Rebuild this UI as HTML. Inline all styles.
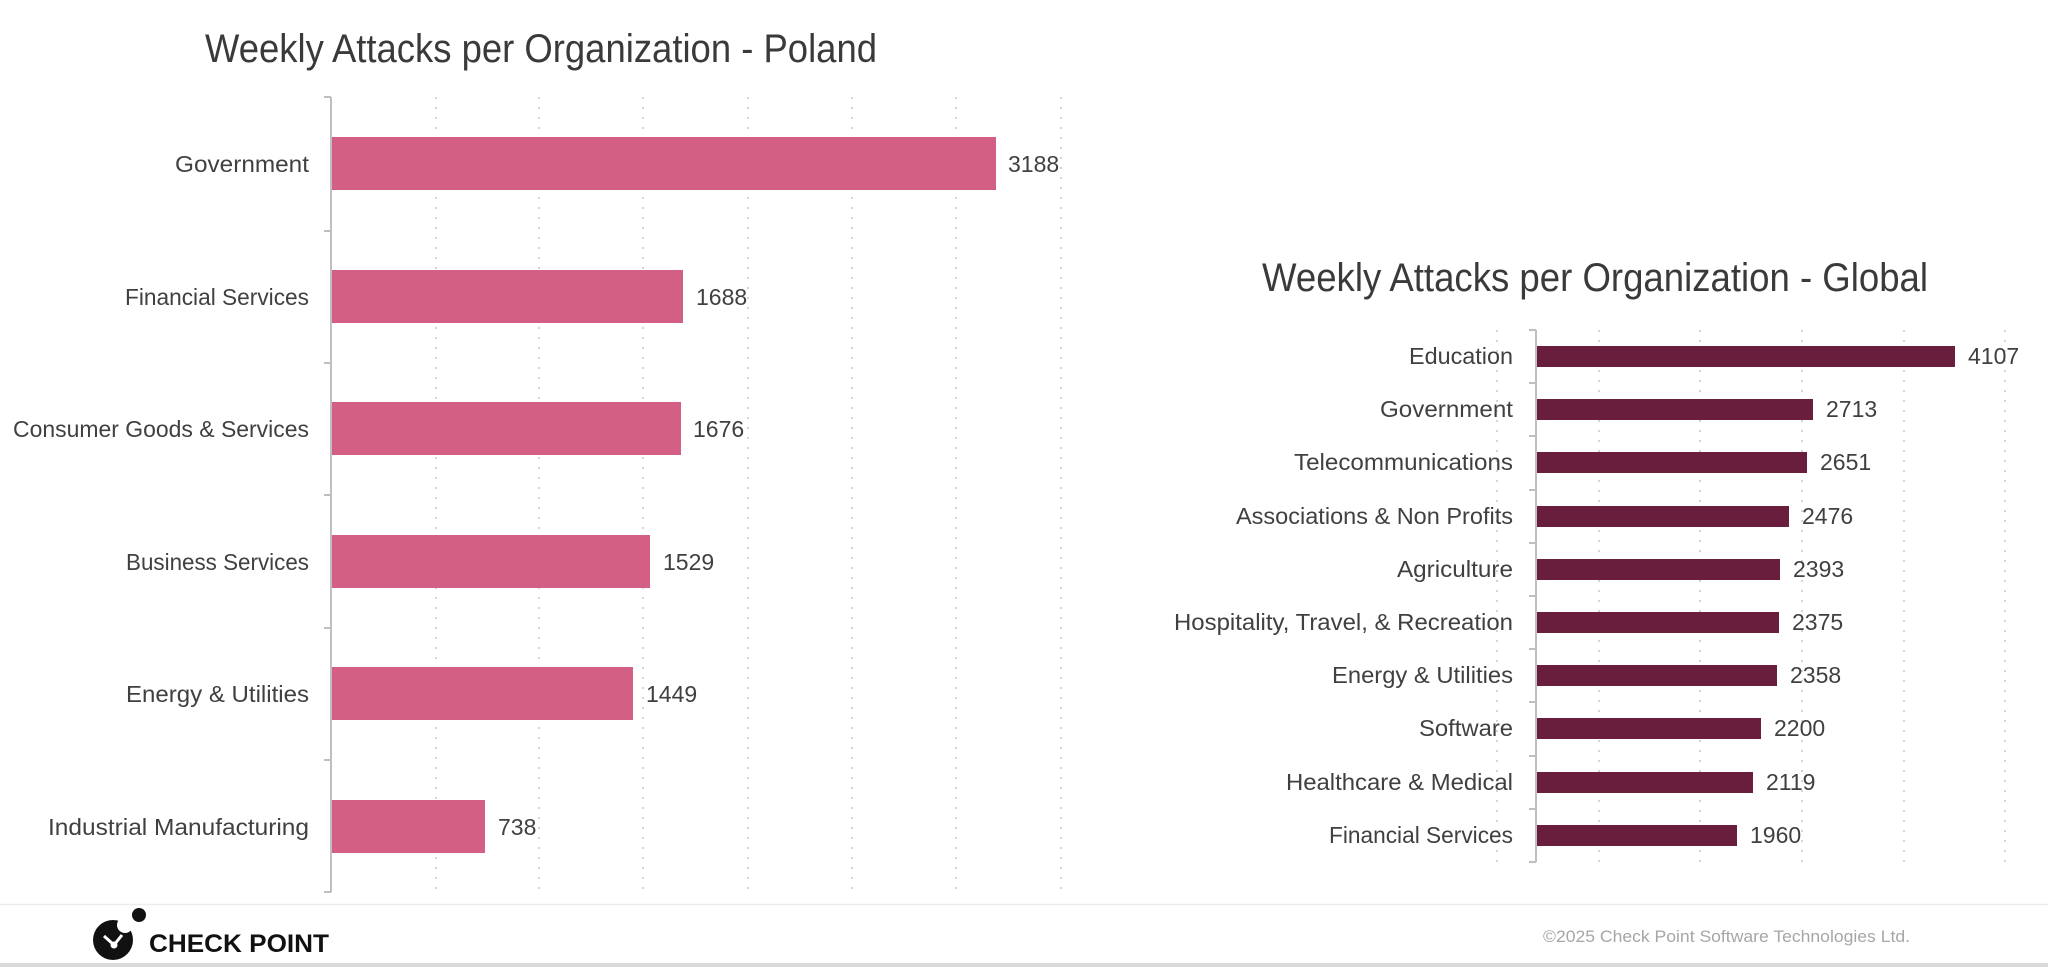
<!DOCTYPE html>
<html><head><meta charset="utf-8"><style>
html,body{margin:0;padding:0;background:#fff;}
svg{display:block;}
text{font-family:"Liberation Sans",sans-serif;}
</style></head><body>
<svg width="2048" height="967" viewBox="0 0 2048 967" xmlns="http://www.w3.org/2000/svg">
<rect width="2048" height="967" fill="#fff"/>
<!-- Left chart -->
<text x="205" y="62" font-size="40" fill="#3a3a3a" textLength="672" lengthAdjust="spacingAndGlyphs">Weekly Attacks per Organization - Poland</text>
<g stroke="#d4d4d4" stroke-width="2" stroke-dasharray="2,8">
<line x1="436" y1="97" x2="436" y2="892"/><line x1="539" y1="97" x2="539" y2="892"/>
<line x1="643" y1="97" x2="643" y2="892"/><line x1="748" y1="97" x2="748" y2="892"/>
<line x1="852" y1="97" x2="852" y2="892"/><line x1="956" y1="97" x2="956" y2="892"/>
<line x1="1061" y1="97" x2="1061" y2="892"/>
</g>
<g stroke="#bfbfbf" stroke-width="2">
<line x1="331" y1="97" x2="331" y2="892"/>
<line x1="324" y1="97" x2="331" y2="97"/><line x1="324" y1="231" x2="331" y2="231"/>
<line x1="324" y1="363" x2="331" y2="363"/><line x1="324" y1="495" x2="331" y2="495"/>
<line x1="324" y1="628" x2="331" y2="628"/><line x1="324" y1="760" x2="331" y2="760"/>
<line x1="324" y1="892" x2="331" y2="892"/>
</g>
<g fill="#d45f84">
<rect x="332" y="137" width="664" height="53"/>
<rect x="332" y="270" width="351" height="53"/>
<rect x="332" y="402" width="349" height="53"/>
<rect x="332" y="535" width="318" height="53"/>
<rect x="332" y="667" width="301" height="53"/>
<rect x="332" y="800" width="153" height="53"/>
</g>
<g font-size="23" fill="#404040" text-anchor="end">
<text x="309" y="172" textLength="134" lengthAdjust="spacingAndGlyphs">Government</text>
<text x="309" y="305" textLength="184" lengthAdjust="spacingAndGlyphs">Financial Services</text>
<text x="309" y="437" textLength="296" lengthAdjust="spacingAndGlyphs">Consumer Goods &amp; Services</text>
<text x="309" y="570" textLength="183" lengthAdjust="spacingAndGlyphs">Business Services</text>
<text x="309" y="702" textLength="183" lengthAdjust="spacingAndGlyphs">Energy &amp; Utilities</text>
<text x="309" y="835" textLength="261" lengthAdjust="spacingAndGlyphs">Industrial Manufacturing</text>
</g>
<g font-size="23" fill="#404040">
<text x="1008" y="172">3188</text>
<text x="696" y="305">1688</text>
<text x="693" y="437">1676</text>
<text x="663" y="570">1529</text>
<text x="646" y="702">1449</text>
<text x="498" y="835">738</text>
</g>
<!-- Right chart -->
<text x="1262" y="291" font-size="40" fill="#3a3a3a" textLength="666" lengthAdjust="spacingAndGlyphs">Weekly Attacks per Organization - Global</text>
<g stroke="#d4d4d4" stroke-width="2" stroke-dasharray="2,8">
<line x1="1497" y1="330" x2="1497" y2="862"/>
<line x1="1599" y1="330" x2="1599" y2="862"/><line x1="1700" y1="330" x2="1700" y2="862"/>
<line x1="1802" y1="330" x2="1802" y2="862"/><line x1="1904" y1="330" x2="1904" y2="862"/>
<line x1="2005" y1="330" x2="2005" y2="862"/>
</g>
<g stroke="#bfbfbf" stroke-width="2">
<line x1="1536" y1="330" x2="1536" y2="862"/>
<line x1="1529" y1="330" x2="1536" y2="330"/><line x1="1529" y1="383" x2="1536" y2="383"/>
<line x1="1529" y1="436" x2="1536" y2="436"/><line x1="1529" y1="490" x2="1536" y2="490"/>
<line x1="1529" y1="543" x2="1536" y2="543"/><line x1="1529" y1="596" x2="1536" y2="596"/>
<line x1="1529" y1="649" x2="1536" y2="649"/><line x1="1529" y1="702" x2="1536" y2="702"/>
<line x1="1529" y1="756" x2="1536" y2="756"/><line x1="1529" y1="809" x2="1536" y2="809"/>
<line x1="1529" y1="862" x2="1536" y2="862"/>
</g>
<g fill="#6a1e3d">
<rect x="1537" y="346" width="418" height="21"/>
<rect x="1537" y="399" width="276" height="21"/>
<rect x="1537" y="452" width="270" height="21"/>
<rect x="1537" y="506" width="252" height="21"/>
<rect x="1537" y="559" width="243" height="21"/>
<rect x="1537" y="612" width="242" height="21"/>
<rect x="1537" y="665" width="240" height="21"/>
<rect x="1537" y="718" width="224" height="21"/>
<rect x="1537" y="772" width="216" height="21"/>
<rect x="1537" y="825" width="200" height="21"/>
</g>
<g font-size="23" fill="#404040" text-anchor="end">
<text x="1513" y="364" textLength="104" lengthAdjust="spacingAndGlyphs">Education</text>
<text x="1513" y="417" textLength="133" lengthAdjust="spacingAndGlyphs">Government</text>
<text x="1513" y="470" textLength="219" lengthAdjust="spacingAndGlyphs">Telecommunications</text>
<text x="1513" y="524" textLength="277" lengthAdjust="spacingAndGlyphs">Associations &amp; Non Profits</text>
<text x="1513" y="577" textLength="116" lengthAdjust="spacingAndGlyphs">Agriculture</text>
<text x="1513" y="630" textLength="339" lengthAdjust="spacingAndGlyphs">Hospitality, Travel, &amp; Recreation</text>
<text x="1513" y="683" textLength="181" lengthAdjust="spacingAndGlyphs">Energy &amp; Utilities</text>
<text x="1513" y="736" textLength="94" lengthAdjust="spacingAndGlyphs">Software</text>
<text x="1513" y="790" textLength="227" lengthAdjust="spacingAndGlyphs">Healthcare &amp; Medical</text>
<text x="1513" y="843" textLength="184" lengthAdjust="spacingAndGlyphs">Financial Services</text>
</g>
<g font-size="23" fill="#404040">
<text x="1968" y="364">4107</text>
<text x="1826" y="417">2713</text>
<text x="1820" y="470">2651</text>
<text x="1802" y="524">2476</text>
<text x="1793" y="577">2393</text>
<text x="1792" y="630">2375</text>
<text x="1790" y="683">2358</text>
<text x="1774" y="736">2200</text>
<text x="1766" y="790">2119</text>
<text x="1750" y="843">1960</text>
</g>
<!-- Footer -->
<line x1="0" y1="904.5" x2="2048" y2="904.5" stroke="#ececec" stroke-width="1.5"/>
<rect x="0" y="963" width="2048" height="4" fill="#d9d9d9"/>
<circle cx="113" cy="940" r="20" fill="#111"/>
<circle cx="125" cy="925" r="8" fill="#fff"/>
<circle cx="139" cy="915" r="7" fill="#111"/>
<path d="M104 936 L114 945 L122 935" stroke="#fff" stroke-width="3" fill="none"/>
<circle cx="114" cy="945" r="3.5" fill="#fff"/>
<text x="149" y="952" font-size="25" font-weight="bold" fill="#111" textLength="180" lengthAdjust="spacingAndGlyphs">CHECK POINT</text>
<text x="1543" y="942" font-size="17" fill="#a6a6a6" textLength="367" lengthAdjust="spacingAndGlyphs">©2025 Check Point Software Technologies Ltd.</text>
</svg>
</body></html>
